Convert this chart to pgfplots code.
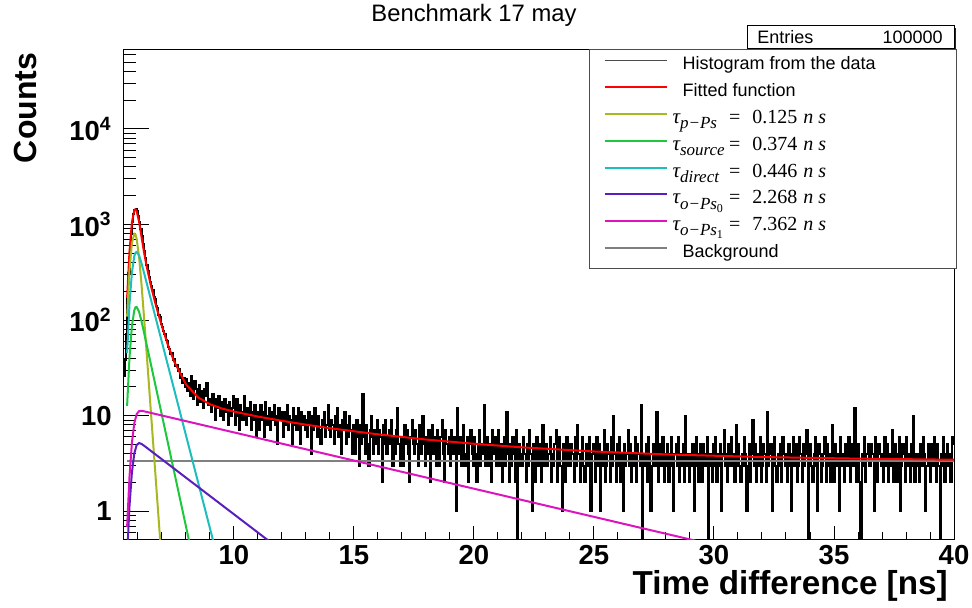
\documentclass[border=0pt]{standalone}
\usepackage{pgfplots}
\pgfplotsset{compat=1.18}
\usepackage{fontspec}
\setmainfont{Liberation Sans}
\newfontfamily\tms{Liberation Serif}

\definecolor{cpps}{RGB}{168,184,30}
\definecolor{csrc}{RGB}{30,200,60}
\definecolor{cdir}{RGB}{30,190,190}
\definecolor{cops0}{RGB}{90,30,190}
\definecolor{cops1}{RGB}{220,20,190}
\definecolor{cbg}{RGB}{128,128,128}

\newcommand{\tauent}[2]{\hspace*{-5pt}{\tms\fontsize{10.5}{12}\selectfont\itshape τ}\makebox[24.5pt][l]{\raisebox{-0.55ex}{\tms\itshape\fontsize{8.5}{9}\selectfont #1}}{\tms\fontsize{10}{12}\selectfont =\hspace{6pt}#2\hspace{3pt}\textit{n}\hspace{2.5pt}\textit{s}}}
\newcommand{\subz}[1]{\raisebox{-0.4ex}{\upshape\fontsize{6}{6}\selectfont #1}}

\begin{document}
\begin{tikzpicture}
\path[use as bounding box] (-61.75pt,-34pt) rectangle (424.25pt,270pt);
% statistics box
\fill[black!85] (312.75pt,244.5pt) rectangle (416.25pt,256pt);
\draw[black, line width=0.5pt, fill=white] (311.75pt,245.5pt) rectangle (415.25pt,257pt);
\node[anchor=west, inner sep=0pt, font=\fontsize{9}{10}\selectfont] at (316.75pt,251.3pt) {Entries};
\node[anchor=east, inner sep=0pt, font=\fontsize{9}{10}\selectfont] at (409.75pt,251.3pt) {100000};
\begin{axis}[
  at={(0,0)}, anchor=south west,
  scale only axis, width=415.25pt, height=245pt,
  xmin=5.4, xmax=40, ymin=0.5, ymax=67000, ymode=log,
  axis line style={black, line width=0.5pt},
  xtick={10,15,20,25,30,35,40},
  minor xtick={6,7,8,9,11,12,13,14,16,17,18,19,21,22,23,24,26,27,28,29,31,32,33,34,36,37,38,39},
  ytick={1,10,100,1000,10000},
  yticklabels={1,10,10\textsuperscript{2},10\textsuperscript{3},10\textsuperscript{4}},
  minor ytick={0.6,0.7,0.8,0.9,2,3,4,5,6,7,8,9,20,30,40,50,60,70,80,90,200,300,400,500,600,700,800,900,2000,3000,4000,5000,6000,7000,8000,9000,20000,30000,40000,50000,60000},
  xtick pos=bottom, ytick pos=left, tick align=inside,
  xtick style={black, line width=0.5pt, /pgfplots/major tick length=7pt, /pgfplots/minor tick length=4pt},
  ytick style={black, line width=0.5pt, /pgfplots/major tick length=12.5pt, /pgfplots/minor tick length=6pt},
  ticklabel style={font=\fontsize{13.75}{16}\selectfont\bfseries},
  /pgf/number format/assume math mode=true,
  xticklabel style={anchor=base, yshift=-12.5pt, inner sep=0pt},
  yticklabel style={anchor=east, xshift=-5.75pt, inner sep=0pt},
  legend style={at={(0.5605,1.0014)}, anchor=north west, draw=black!70, line width=0.5pt, fill=white,
    inner xsep=7pt, inner ysep=1pt, row sep=0pt,
    font=\fontsize{9}{10}\selectfont,
    nodes={inner sep=0pt, text height=9pt, text depth=4.4pt}, cells={anchor=west},
    /tikz/every odd column/.append style={column sep=7.5pt}},
  legend image code/.code={\path (0pt,0pt); \draw[#1] (0pt,2.4pt) -- (31pt,2.4pt);},
  legend entries={{\makebox[130pt][l]{Histogram from the data}},{Fitted function},
    {\tauent{p−Ps}{0.125}},{\tauent{source}{0.374}},{\tauent{direct}{0.446}},
    {\tauent{o−Ps\subz{0}}{2.268}},{\tauent{o−Ps\subz{1}}{7.362}},{Background}},
]
% histogram from the data (bin width 0.05 ns, starting at 5.40 ns)
\addplot[const plot, black, line width=1pt, forget plot] table[x expr=5.4+0.05*\coordindex, y index=0, header=false, row sep=\\] {
26\\38\\72\\165\\310\\530\\800\\1050\\1280\\1430\\
1450\\1380\\1230\\1070\\900\\750\\620\\525\\445\\380\\
330\\285\\252\\226\\206\\174\\165\\139\\133\\112\\
108\\91\\84\\77\\71\\62\\60\\52\\50\\44\\
45\\38\\39\\33\\34\\29\\31\\25\\27\\22\\
25\\20\\
24\\18\\22\\16\\26\\20\\15\\23\\19\\13\\
17\\21\\14\\18\\12\\19\\16\\22\\13\\15\\
14\\11\\17\\13\\9\\15\\12\\16\\10\\14\\
12\\9\\15\\11\\13\\8\\14\\10\\12\\16\\
12\\8\\15\\10\\7\\13\\11\\9\\16\\10\\
8\\12\\10\\14\\7\\11\\9\\13\\6\\11\\
10\\7\\13\\9\\11\\6\\14\\8\\10\\12\\
7\\11\\9\\13\\8\\10\\5\\12\\9\\11\\
9\\6\\11\\8\\13\\7\\10\\9\\5\\12\\
8\\10\\7\\12\\9\\5\\11\\8\\10\\7\\
9\\6\\11\\8\\4\\10\\7\\12\\8\\6\\
10\\7\\5\\9\\8\\11\\6\\8\\13\\7\\
6\\9\\8\\5\\10\\7\\12\\6\\8\\4\\
9\\7\\11\\5\\8\\6\\10\\7\\4\\8\\
7\\4\\9\\6\\3\\8\\5\\17\\6\\4\\
8\\5\\3\\7\\10\\6\\4\\7\\5\\9\\
4\\7\\6\\2\\8\\5\\9\\4\\6\\7\\
5\\9\\3\\6\\4\\7\\12\\5\\3\\6\\
6\\3\\8\\5\\7\\4\\2\\6\\9\\5\\
4\\7\\5\\3\\8\\6\\4\\10\\5\\3\\
6\\4\\7\\2\\5\\8\\4\\6\\3\\7\\
5\\3\\6\\9\\4\\2\\7\\5\\4\\6\\
3\\7\\4\\6\\5\\1\\12\\4\\6\\3\\
5\\8\\3\\4\\6\\2\\5\\7\\4\\3\\
6\\4\\2\\5\\7\\3\\5\\4\\13\\3\\
4\\6\\3\\5\\2\\7\\4\\6\\3\\5\\
7\\3\\5\\2\\4\\6\\3\\11\\4\\2\\
5\\3\\6\\4\\2\\7\\0.3\\5\\3\\4\\
3\\6\\4\\2\\5\\3\\7\\4\\1\\5\\
4\\2\\6\\3\\5\\4\\2\\8\\3\\4\\
5\\3\\4\\6\\2\\4\\3\\5\\7\\2\\
4\\6\\3\\1\\5\\4\\2\\6\\3\\5\\
3\\5\\4\\2\\6\\3\\8\\4\\2\\4\\
6\\3\\2\\5\\4\\3\\6\\1\\4\\5\\
4\\2\\6\\3\\5\\1\\4\\3\\7\\2\\
3\\5\\4\\2\\6\\3\\10\\4\\2\\5\\
3\\6\\2\\4\\1\\5\\3\\4\\7\\3\\
5\\2\\4\\3\\6\\2\\5\\4\\3\\13\\
0.3\\4\\3\\5\\2\\6\\4\\1\\3\\5\\
4\\3\\11\\2\\4\\5\\3\\6\\2\\4\\
3\\5\\2\\4\\6\\3\\1\\4\\5\\3\\
6\\2\\4\\3\\5\\2\\10\\3\\4\\2\\
4\\3\\5\\1\\3\\6\\4\\2\\5\\3\\
2\\5\\3\\4\\6\\0.3\\3\\4\\2\\5\\
3\\6\\2\\4\\3\\5\\1\\4\\7\\3\\
4\\2\\5\\3\\6\\3\\4\\2\\8\\3\\
5\\3\\2\\4\\3\\6\\4\\1\\3\\5\\
2\\4\\9\\3\\5\\2\\4\\3\\6\\2\\
3\\5\\4\\2\\11\\3\\4\\5\\1\\4\\
6\\3\\2\\4\\3\\5\\2\\6\\4\\3\\
4\\2\\5\\3\\1\\4\\6\\3\\5\\2\\
3\\6\\4\\2\\5\\3\\4\\7\\0.3\\3\\
5\\3\\2\\4\\6\\3\\1\\5\\4\\2\\
3\\4\\6\\2\\5\\3\\4\\2\\8\\4\\
2\\5\\3\\4\\1\\6\\3\\4\\2\\5\\
4\\3\\6\\2\\4\\5\\3\\12\\2\\3\\
5\\2\\0.3\\4\\3\\6\\2\\4\\5\\3\\
3\\5\\4\\1\\6\\3\\2\\5\\4\\3\\
4\\2\\6\\3\\5\\2\\4\\3\\7\\2\\
3\\5\\2\\4\\6\\1\\3\\5\\4\\2\\
6\\3\\4\\2\\5\\3\\10\\2\\4\\3\\
4\\2\\5\\3\\6\\4\\1\\3\\5\\4\\
2\\5\\3\\6\\4\\2\\5\\3\\0.3\\4\\
3\\6\\2\\4\\5\\3\\4\\2\\6\\5\\
5\\
};
\addlegendimage{black!70, line width=0.5pt}
% background (drawn under the fit)
\addplot[cbg, line width=1pt, forget plot] coordinates {(5.55,3.35) (40,3.35)};
% fitted function
\addplot[red, line width=1pt, line join=round] coordinates {
(5.55,170.7) (5.65,523.4) (5.75,1048.5) (5.85,1415.8) (5.90,1447.5) (5.95,1377.7)
(6.05,1067.2) (6.15,746.5) (6.25,522.2) (6.35,380.1) (6.55,223.7) (6.75,142.5)
(7.0,86.2) (7.25,55.0) (7.5,37.4) (8.0,21.3) (8.5,15.56) (9.0,13.16) (9.5,11.88)
(10,11.03) (11,9.78) (12,8.83) (13,8.05) (14,7.39) (16,6.38) (18,5.63) (20,5.08)
(22,4.66) (25,4.22) (28,3.93) (32,3.69) (36,3.55) (40,3.46)};
% tau p-Ps
\addplot[cpps, line width=1pt, line join=round] coordinates {
(5.55,108.5) (5.65,329) (5.75,636.5) (5.85,806.7) (5.90,787) (5.95,703.8) (6.05,453.1)
(6.15,236.9) (6.25,111.6) (6.35,50.8) (6.55,10.23) (6.95,0.417)};
% tau source
\addplot[csrc, line width=1pt, line join=round] coordinates {
(5.55,12.65) (5.65,40.8) (5.75,86.5) (5.85,126.6) (5.90,136.2) (5.95,137.4) (6.05,121.6)
(6.15,97.2) (6.25,75.1) (6.35,57.5) (6.55,33.7) (8.2,0.409)};
% tau direct
\addplot[cdir, line width=1pt, line join=round] coordinates {
(5.55,45.2) (5.65,146.8) (5.75,314.4) (5.85,466.8) (5.90,506.9) (5.95,517.8) (6.05,472.8)
(6.15,392.8) (6.25,316.2) (6.35,252.8) (6.55,161.5) (9.2,0.425)};
% tau o-Ps 0
\addplot[cops0, line width=1pt, line join=round] coordinates {
(5.55,0.339) (5.65,1.134) (5.75,2.54) (5.85,4.03) (5.95,4.94) (6.05,5.17) (6.15,5.06)
(6.25,4.86) (6.35,4.66) (6.55,4.26) (11.6,0.459)};
% tau o-Ps 1
\addplot[cops1, line width=1pt, line join=round] coordinates {
(5.55,0.684) (5.65,2.30) (5.75,5.19) (5.85,8.33) (5.95,10.39) (6.05,11.16) (6.15,11.23)
(6.25,11.12) (6.35,10.97) (6.55,10.67) (30,0.443)};
\addlegendimage{cbg, line width=1pt}
\end{axis}
% title and axis titles
\node[anchor=base, inner sep=0pt, font=\fontsize{11.9}{14}\selectfont] at (175.25pt,259pt) {Benchmark 17 may};
\node[anchor=base east, inner sep=0pt, font=\fontsize{16.6}{19}\selectfont\bfseries] at (412.25pt,-27.5pt) {Time difference [ns]};
\node[anchor=base, rotate=90, inner sep=0pt, font=\fontsize{16}{19}\selectfont\bfseries] at (-43.25pt,216pt) {Counts};
\end{tikzpicture}
\end{document}
